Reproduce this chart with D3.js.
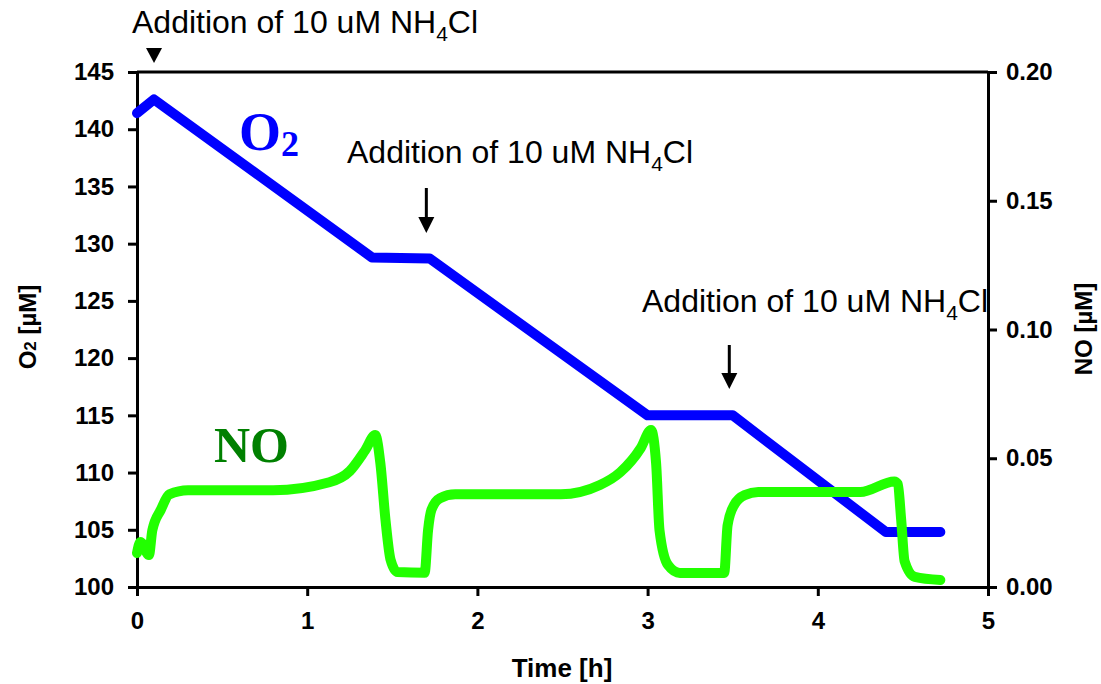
<!DOCTYPE html>
<html>
<head>
<meta charset="utf-8">
<script src="https://cdn.jsdelivr.net/npm/d3@7"></script>
<style>
  body { margin: 0; background: #fff; }
  text { font-family: "Liberation Sans", Arial, sans-serif; }
  .axis path, .axis line { stroke: #000; stroke-width: 3; }
  .axis text { font-size: 24px; font-weight: bold; fill: #000; }
</style>
</head>
<body>
<svg width="1101" height="684"></svg>
<script>
// O2 trace (left axis, uM)
var o2Time = [0, 0.1, 1.38, 1.72, 3.0, 3.5, 4.4, 4.72];
var o2Value = [141.4, 142.6, 128.8, 128.7, 115.0, 115.0, 104.8, 104.8];

// NO trace (right axis, uM)
var noTime = [0, 0.02, 0.07, 0.09, 0.14, 0.19, 0.3, 0.8, 1.13, 1.25, 1.34, 1.40, 1.43, 1.46, 1.49, 1.53, 1.69, 1.71, 1.73, 1.78, 1.87, 2.49, 2.72, 2.84, 2.96, 3.02, 3.05, 3.07, 3.12, 3.19, 3.45, 3.47, 3.51, 3.57, 3.65, 4.25, 4.45, 4.47, 4.49, 4.51, 4.57, 4.72];
var noValue = [0.0132, 0.0175, 0.0124, 0.022, 0.030, 0.036, 0.0376, 0.0376, 0.0407, 0.045, 0.053, 0.059, 0.048, 0.026, 0.0105, 0.0058, 0.0055, 0.022, 0.030, 0.0345, 0.036, 0.036, 0.0396, 0.0446, 0.054, 0.061, 0.048, 0.022, 0.0085, 0.0054, 0.0054, 0.024, 0.032, 0.0357, 0.0369, 0.0369, 0.041, 0.040, 0.026, 0.010, 0.0039, 0.0027];

var xTicks = [0, 1, 2, 3, 4, 5];
var leftTicks = [100, 105, 110, 115, 120, 125, 130, 135, 140, 145];
var rightTicks = [0, 0.05, 0.10, 0.15, 0.20];

// times of the NH4Cl additions
var addTime = [0.1, 1.7, 3.48];

var svg = d3.select("svg");
var plotLeft = 137, plotRight = 988, plotTop = 72, plotBottom = 587;

var x = d3.scaleLinear().domain([0, 5]).range([plotLeft, plotRight]);
var yL = d3.scaleLinear().domain([100, 145]).range([plotBottom, plotTop]);
var yR = d3.scaleLinear().domain([0, 0.2]).range([plotBottom, plotTop]);

// frame top line
svg.append("line")
    .attr("x1", plotLeft).attr("x2", plotRight)
    .attr("y1", plotTop).attr("y2", plotTop)
    .attr("stroke", "#000").attr("stroke-width", 3);

svg.append("g")
    .attr("class", "axis")
    .attr("transform", "translate(0," + plotBottom + ")")
    .call(d3.axisBottom(x).tickValues(xTicks).tickSize(9).tickSizeOuter(0).tickPadding(16).tickFormat(d3.format("d")));

svg.append("g")
    .attr("class", "axis")
    .attr("transform", "translate(" + plotLeft + ",0)")
    .call(d3.axisLeft(yL).tickValues(leftTicks).tickSize(9).tickSizeOuter(0).tickPadding(14).tickFormat(d3.format("d")));

svg.append("g")
    .attr("class", "axis")
    .attr("transform", "translate(" + plotRight + ",0)")
    .call(d3.axisRight(yR).tickValues(rightTicks).tickSize(9).tickSizeOuter(0).tickPadding(9).tickFormat(d3.format(".2f")));

// axis titles
svg.append("text")
    .attr("x", 562).attr("y", 677)
    .attr("text-anchor", "middle")
    .style("font-size", "26px").style("font-weight", "bold")
    .text("Time [h]");

var yt = svg.append("text")
    .attr("transform", "translate(36,327) rotate(-90)")
    .attr("text-anchor", "middle")
    .style("font-size", "24px").style("font-weight", "bold");
yt.append("tspan").text("O");
yt.append("tspan").style("font-size", "17px").text("2");
yt.append("tspan").text(" [µM]");

svg.append("text")
    .attr("transform", "translate(1092,329) rotate(-90)")
    .attr("text-anchor", "middle")
    .style("font-size", "24px").style("font-weight", "bold")
    .text("NO [µM]");

// traces
var lineO2 = d3.line()
    .x(function (d, i) { return x(o2Time[i]); })
    .y(function (d) { return yL(d); });

var lineNO = d3.line()
    .curve(d3.curveMonotoneX)
    .x(function (d, i) { return x(noTime[i]); })
    .y(function (d) { return yR(d); });

svg.append("path")
    .datum(o2Value)
    .attr("d", lineO2)
    .attr("fill", "none")
    .attr("stroke", "#0000ff")
    .attr("stroke-width", 10)
    .attr("stroke-linejoin", "round")
    .attr("stroke-linecap", "round");

svg.append("path")
    .datum(noValue)
    .attr("d", lineNO)
    .attr("fill", "none")
    .attr("stroke", "#22ff00")
    .attr("stroke-width", 10)
    .attr("stroke-linejoin", "round")
    .attr("stroke-linecap", "round");

// series labels
var o2Label = svg.append("text")
    .attr("x", 239).attr("y", 150)
    .style("font-family", "'Liberation Serif', 'Times New Roman', serif")
    .style("font-weight", "bold").style("font-size", "54px")
    .attr("fill", "#0000ff");
o2Label.append("tspan").text("O");
o2Label.append("tspan").attr("dy", 6).style("font-size", "36px").text("2");

svg.append("text")
    .attr("x", 214).attr("y", 462)
    .style("font-family", "'Liberation Serif', 'Times New Roman', serif")
    .style("font-weight", "bold").style("font-size", "50px")
    .attr("fill", "#008000")
    .text("NO");

// addition annotations
function addLabel(tx, ty) {
    var t = svg.append("text")
        .attr("x", tx).attr("y", ty)
        .style("font-size", "32px").attr("fill", "#000");
    t.append("tspan").text("Addition of 10 uM NH");
    t.append("tspan").attr("dy", 8).style("font-size", "21px").text("4");
    t.append("tspan").attr("dy", -8).text("Cl");
}
addLabel(132, 33);
addLabel(347, 163);
addLabel(642, 312);

// first marker: small triangle
var tx0 = x(addTime[0]);
svg.append("path")
    .attr("d", "M" + (tx0 - 8) + ",48 L" + (tx0 + 8) + ",48 L" + tx0 + ",63 Z")
    .attr("fill", "#000");

// arrows
[[addTime[1], 188, 233], [addTime[2], 345, 389]].forEach(function (a) {
    var ax = x(a[0]);
    svg.append("line")
        .attr("x1", ax).attr("x2", ax)
        .attr("y1", a[1]).attr("y2", a[2] - 12)
        .attr("stroke", "#000").attr("stroke-width", 3);
    svg.append("path")
        .attr("d", "M" + (ax - 8) + "," + (a[2] - 16) + " L" + (ax + 8) + "," + (a[2] - 16) + " L" + ax + "," + a[2] + " Z")
        .attr("fill", "#000");
});
</script>
</body>
</html>
